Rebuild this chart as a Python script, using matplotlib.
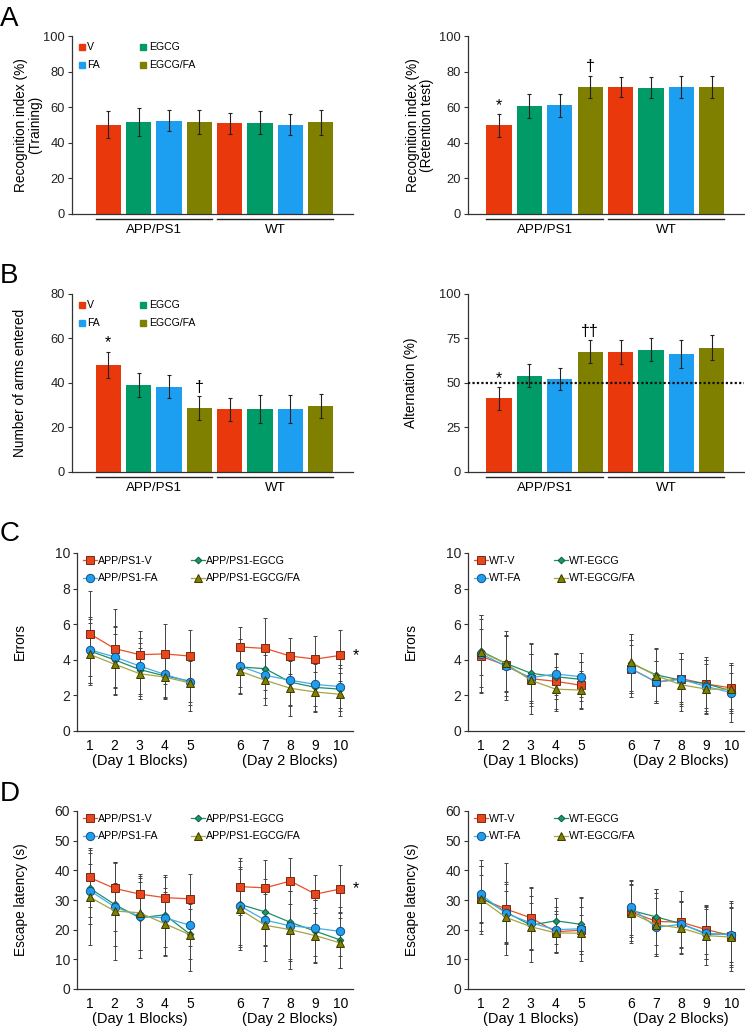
"""Behaviour tests: object recognition, Y-maze and radial-arm water maze."""

import matplotlib

matplotlib.use("Agg")
import matplotlib.pyplot as plt
import numpy as np
from matplotlib.lines import Line2D
from matplotlib.transforms import blended_transform_factory

plt.rcParams["font.family"] = ["Liberation Sans", "DejaVu Sans"]

# ---- bar panels (A, B) ----
groups = ["APP/PS1", "WT"]
treatments = ["V", "EGCG", "FA", "EGCG/FA"]
bar_colors = ["#e8380c", "#009b67", "#1c9ff0", "#808000"]

training_mean = [50.2, 51.7, 52.4, 51.7, 50.9, 51.3, 50.2, 51.5]
training_sd = [7.6, 8.0, 6.0, 6.7, 6.0, 6.3, 6.0, 7.2]
retention_mean = [49.8, 60.7, 61.0, 71.5, 71.3, 71.0, 71.3, 71.2]
retention_sd = [6.3, 6.7, 6.3, 6.3, 5.8, 5.8, 6.0, 6.3]
arms_mean = [48.1, 39.0, 38.3, 28.8, 28.1, 28.3, 28.4, 29.7]
arms_sd = [6.0, 5.5, 5.2, 5.4, 5.0, 6.4, 6.2, 5.5]
alternation_mean = [41.3, 54.0, 52.3, 67.5, 67.3, 68.8, 66.2, 69.9]
alternation_sd = [6.2, 6.5, 6.0, 6.5, 6.8, 6.7, 7.9, 7.1]

retention_marks = {0: "*", 3: "\u2020"}
arms_marks = {0: "*", 3: "\u2020"}
alternation_marks = {0: "*", 3: "\u2020\u2020"}

# ---- line panels (C, D) ----  rows: V, EGCG, FA, EGCG/FA
blocks = np.arange(1, 11)
line_face = ["#e8471e", "#17996a", "#1d9ff0", "#808000"]
line_edge = ["#7a2a12", "#0b5a3a", "#1d4f80", "#3a3a00"]
line_color = ["#e8502a", "#1b9064", "#45aceb", "#a5a545"]
line_markers = ["s", "D", "o", "^"]
line_msize = [5.4, 3.4, 6.0, 6.0]

app_errors_mean = [
    [5.47, 4.63, 4.29, 4.33, 4.21, 4.72, 4.64, 4.21, 4.04, 4.25],
    [4.50, 4.00, 3.45, 3.10, 2.80, 3.60, 3.50, 2.75, 2.45, 2.35],
    [4.57, 4.16, 3.65, 3.18, 2.75, 3.65, 3.13, 2.85, 2.62, 2.49],
    [4.31, 3.75, 3.22, 3.03, 2.70, 3.35, 2.85, 2.40, 2.19, 2.06],
]
app_errors_sd = [
    [2.40, 2.20, 1.30, 1.70, 1.45, 1.15, 1.70, 1.00, 1.30, 1.45],
    [1.80, 1.90, 1.50, 1.30, 1.15, 1.10, 1.20, 1.35, 1.30, 1.20],
    [1.85, 1.70, 1.55, 1.30, 1.30, 1.50, 1.30, 1.40, 1.20, 1.20],
    [1.75, 1.70, 1.45, 1.13, 1.60, 1.25, 1.40, 1.55, 1.10, 1.20],
]
wt_errors_mean = [
    [4.21, 3.69, 2.94, 2.79, 2.57, 3.50, 2.75, 2.94, 2.64, 2.42],
    [4.50, 3.80, 3.25, 3.05, 2.90, 3.80, 3.15, 2.85, 2.65, 2.25],
    [4.35, 3.65, 3.00, 3.20, 3.05, 3.50, 2.75, 2.90, 2.50, 2.15],
    [4.45, 3.80, 2.85, 2.35, 2.30, 3.85, 3.10, 2.60, 2.35, 2.35],
]
wt_errors_sd = [
    [2.10, 1.95, 2.00, 1.55, 1.30, 1.60, 1.20, 1.45, 1.50, 1.30],
    [2.00, 1.55, 1.65, 1.25, 1.00, 1.65, 1.45, 1.20, 1.35, 1.00],
    [2.15, 1.70, 1.30, 1.20, 1.35, 1.35, 1.20, 1.50, 1.50, 1.65],
    [1.30, 1.60, 1.45, 1.25, 1.05, 1.60, 1.55, 1.45, 1.40, 1.35],
]
app_latency_mean = [
    [37.6, 33.9, 32.0, 30.8, 30.4, 34.5, 34.1, 36.4, 32.0, 33.7],
    [34.0, 28.5, 24.0, 25.0, 18.5, 28.5, 26.0, 22.5, 19.5, 16.5],
    [33.2, 27.7, 24.5, 24.0, 21.5, 28.0, 23.2, 21.3, 20.5, 19.4],
    [31.0, 26.3, 25.7, 22.0, 18.3, 26.8, 21.5, 20.0, 18.0, 15.5],
]
app_latency_sd = [
    [9.8, 8.9, 6.8, 7.0, 8.4, 9.5, 9.4, 7.6, 6.5, 8.1],
    [12.0, 14.0, 13.5, 13.5, 8.5, 14.5, 11.0, 12.5, 10.5, 9.3],
    [9.0, 8.0, 11.5, 10.0, 7.0, 13.0, 8.7, 11.8, 9.5, 8.4],
    [16.0, 16.5, 12.5, 10.8, 12.3, 13.8, 12.0, 13.2, 9.2, 8.3],
]
wt_latency_mean = [
    [30.5, 27.0, 24.0, 19.3, 19.8, 26.0, 22.8, 22.5, 20.0, 18.0],
    [31.0, 26.0, 21.5, 23.0, 21.8, 26.5, 24.3, 22.0, 18.5, 18.5],
    [32.0, 25.5, 22.3, 20.0, 20.3, 27.5, 20.8, 21.8, 18.8, 18.2],
    [30.3, 24.2, 21.0, 18.9, 18.8, 25.6, 21.7, 20.5, 18.0, 17.5],
]
wt_latency_sd = [
    [11.0, 15.5, 10.5, 7.0, 8.0, 10.5, 11.0, 10.5, 8.3, 11.8],
    [12.5, 10.0, 12.5, 7.8, 9.0, 9.0, 9.3, 7.8, 8.5, 10.5],
    [9.5, 10.0, 9.0, 7.5, 10.8, 9.2, 9.8, 8.0, 8.8, 9.0],
    [8.2, 9.0, 8.0, 6.5, 6.0, 9.5, 10.6, 8.8, 10.0, 10.0],
]

W, H = 745, 1028
AXIS = "#333333"


def rect(x0, x1, top, bottom):
    return [x0 / W, 1 - bottom / H, (x1 - x0) / W, (bottom - top) / H]


def style_axes(ax, tick_size):
    for side in ("top", "right"):
        ax.spines[side].set_visible(False)
    for side in ("left", "bottom"):
        ax.spines[side].set_color(AXIS)
        ax.spines[side].set_linewidth(0.9)
    ax.tick_params(axis="y", direction="out", length=3, width=0.8, colors=AXIS,
                   labelsize=tick_size, labelcolor="#222222", pad=2)


def bar_panel(ax, means, sds, ylim, yticks, ylabel, label_x, xlim, marks=None, legend=False):
    style_axes(ax, 9.3)
    n = len(treatments)
    x = np.arange(len(means))
    colors = bar_colors * len(groups)
    ax.bar(x, means, width=0.83, color=colors, zorder=2)
    ax.errorbar(x, means, yerr=sds, fmt="none", ecolor="#222222", elinewidth=0.8,
                capsize=1.6, capthick=0.8, zorder=3)
    ax.set_xlim(*xlim)
    ax.set_ylim(*ylim)
    ax.set_yticks(yticks)
    ax.set_xticks([])
    ax.set_ylabel(ylabel, fontsize=9.8, linespacing=1.0)
    ax.yaxis.set_label_coords(label_x, 0.5)
    trans = blended_transform_factory(ax.transData, ax.transAxes)
    for gi, name in enumerate(groups):
        lo, hi = gi * n - 0.415, gi * n + n - 1 + 0.415
        ax.plot([lo, hi], [-0.028, -0.028], color="#222222", lw=1.0,
                transform=trans, clip_on=False)
        ax.text((lo + hi) / 2, -0.088, name, transform=trans, ha="center",
                va="center", fontsize=9.6)
    if marks:
        for i, m in marks.items():
            ax.annotate(m, (x[i], means[i] + sds[i]), xytext=(0, 1),
                        textcoords="offset points", ha="center", va="bottom",
                        fontsize=11.5)
    if legend:
        handles = [Line2D([], [], marker="s", ls="none", color=c, markersize=4.8)
                   for c in bar_colors]
        order = [0, 2, 1, 3]
        ax.legend([handles[i] for i in order], [treatments[i] for i in order],
                  ncol=2, loc="upper left", bbox_to_anchor=(0.0, 1.0),
                  frameon=False, fontsize=7.6, handlelength=0.6,
                  handletextpad=0.25, columnspacing=3.8, labelspacing=0.75,
                  borderaxespad=0.2)


def line_panel(ax, means, sds, names, ylim, yticks, ylabel, label_x, star=False):
    style_axes(ax, 10)
    pos = np.where(blocks <= 5, blocks - 1, blocks)
    day1 = blocks <= 5
    for k in range(len(means)):
        m = np.array(means[k])
        s = np.array(sds[k])
        ax.errorbar(pos, m, yerr=s, fmt="none", ecolor="#444444", elinewidth=0.7,
                    capsize=1.3, capthick=0.7, zorder=2)
    handles = []
    for k in [1, 2, 3, 0]:
        m = np.array(means[k])
        kw = dict(color=line_color[k], lw=0.9, marker=line_markers[k],
                  markersize=line_msize[k], markerfacecolor=line_face[k],
                  markeredgecolor=line_edge[k], markeredgewidth=0.7, zorder=3 + k)
        ax.plot(pos[day1], m[day1], **kw)
        ax.plot(pos[~day1], m[~day1], **kw)
        handles.append((k, Line2D([], [], **kw)))
    handles = dict(handles)
    order = [0, 2, 1, 3]
    ax.legend([handles[i] for i in order], [names[i] for i in order], ncol=2,
              loc="upper left", bbox_to_anchor=(0.0, 1.02), frameon=False,
              fontsize=7.7, handlelength=1.3, handletextpad=0.1,
              columnspacing=3.0, labelspacing=0.7, borderaxespad=0.2)
    ax.set_xlim(-0.5, 10.5)
    ax.set_ylim(*ylim)
    ax.set_yticks(yticks)
    ax.set_xticks(pos)
    ax.set_xticklabels([str(b) for b in blocks])
    ax.tick_params(axis="x", length=0, labelsize=10, pad=6)
    ax.set_ylabel(ylabel, fontsize=9.8)
    ax.yaxis.set_label_coords(label_x, 0.5)
    trans = blended_transform_factory(ax.transData, ax.transAxes)
    ax.text(np.mean(pos[day1]), -0.168, "(Day 1 Blocks)", transform=trans,
            ha="center", va="center", fontsize=10.5)
    ax.text(np.mean(pos[~day1]), -0.168, "(Day 2 Blocks)", transform=trans,
            ha="center", va="center", fontsize=10.5)
    if star:
        ax.annotate("*", (pos[-1], means[0][-1]), xytext=(9, 0),
                    textcoords="offset points", ha="left", va="center",
                    fontsize=11.5, annotation_clip=False)


fig = plt.figure(figsize=(W / 100, H / 100), dpi=100)

ax = fig.add_axes(rect(72, 353, 36, 214))
bar_panel(ax, training_mean, training_sd, (0, 100), range(0, 101, 20),
          "Recognition index (%)\n(Training)", -0.107, (-1.2, 8.07), legend=True)
ax = fig.add_axes(rect(468, 744, 36, 214))
bar_panel(ax, retention_mean, retention_sd, (0, 100), range(0, 101, 20),
          "Recognition index (%)\n(Retention test)", -0.123, (-1.02, 8.06),
          marks=retention_marks)

ax = fig.add_axes(rect(72, 353, 294, 472))
bar_panel(ax, arms_mean, arms_sd, (0, 80), range(0, 81, 20),
          "Number of arms entered", -0.16, (-1.2, 8.07), marks=arms_marks, legend=True)
ax = fig.add_axes(rect(468, 744, 294, 472))
bar_panel(ax, alternation_mean, alternation_sd, (0, 100), range(0, 101, 25),
          "Alternation (%)", -0.181, (-1.02, 8.06), marks=alternation_marks)
ax.axhline(50, color="#111111", lw=1.6, ls=(0, (1, 1)), zorder=4)

app_names = ["APP/PS1-" + t for t in treatments]
wt_names = ["WT-" + t for t in treatments]

ax = fig.add_axes(rect(77, 353, 553, 731))
line_panel(ax, app_errors_mean, app_errors_sd, app_names, (0, 10), range(0, 11, 2),
           "Errors", -0.181, star=True)
ax = fig.add_axes(rect(468, 744, 553, 731))
line_panel(ax, wt_errors_mean, wt_errors_sd, wt_names, (0, 10), range(0, 11, 2),
           "Errors", -0.181)

ax = fig.add_axes(rect(77, 353, 811, 989))
line_panel(ax, app_latency_mean, app_latency_sd, app_names, (0, 60), range(0, 61, 10),
           "Escape latency (s)", -0.178, star=True)
ax = fig.add_axes(rect(468, 744, 811, 989))
line_panel(ax, wt_latency_mean, wt_latency_sd, wt_names, (0, 60), range(0, 61, 10),
           "Escape latency (s)", -0.178)

for letter, ytop in zip("ABCD", [6, 263, 521, 781]):
    fig.text(0, 1 - ytop / H, letter, fontsize=20, ha="left", va="top")

fig.savefig("out.png", dpi=100)
plt.close(fig)
